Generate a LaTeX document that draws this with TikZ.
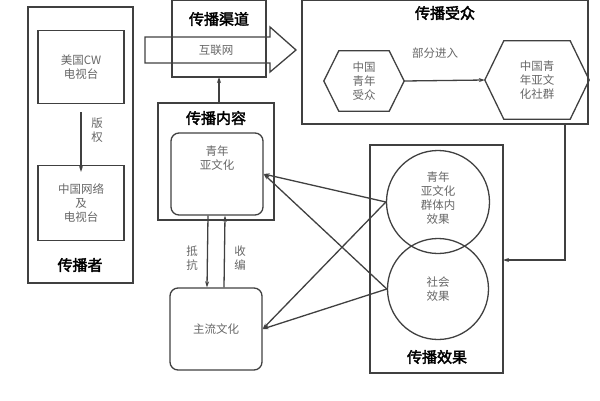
\documentclass[tikz,border=0pt]{standalone}
\usepackage{fontspec}
\setmainfont{Noto Sans CJK SC}[AutoFakeBold=2.5]
\usetikzlibrary{arrows.meta,positioning}
\begin{document}
\begin{tikzpicture}[x=1pt,y=-1pt,draw=black!75,
  box/.style={draw,line width=1.3pt},
  rbox/.style={draw,line width=1.3pt,rounded corners=8pt,align=center,font=\fontsize{11.5}{14}\selectfont,text=black!60},
  txt/.style={align=center,font=\fontsize{11.5}{14}\selectfont,text=black!60},
  ttl/.style={font=\fontsize{15}{17}\selectfont\bfseries},
  arr/.style={-{Stealth[length=6pt,width=4pt]},line width=1.3pt}]
\useasboundingbox (0,0) rectangle (600,400);

% sender
\draw[box] (28,7) rectangle (133,283);
\node[ttl] (sendT) at (80,265) {传播者};
\node[rbox,rounded corners=0pt,minimum width=86pt,minimum height=73pt] (cw) at (81,67) {美国CW\\电视台};
\node[rbox,rounded corners=0pt,minimum width=86pt,minimum height=75pt] (cn) at (81,203) {中国网络\\及\\电视台};
\draw[arr] (cw.south) ++(0,8) coordinate (c1) -- ([yshift=-7pt]cn.north);
\node[txt] (copy) at (97,130) {版\\权};

% channel
\draw[box] (172,0) rectangle (266,77);
\node[ttl] (chanT) at (219,19) {传播渠道};
\draw[line width=1.3pt] (145,37) -- (270,37) -- (270,27) -- (296,50) -- (270,72) -- (270,63) -- (145,63) -- cycle;
\node[txt] (net) at (216,50) {互联网};

% content
\draw[box] (158,103) rectangle (274,220);
\node[ttl] (contT) at (216,118) {传播内容};
\coordinate (contTop) at (219,103);
\coordinate (chanBot) at (219,77);
\draw[arr] (contTop) -- (chanBot);
\node[rbox,minimum width=92pt,minimum height=82pt] (youth) at (217,174) {青年\\亚文化\\[18pt]};
\node[rbox,minimum width=92pt,minimum height=82pt] (main) at (216,329) {主流文化};
\draw[arr] ([xshift=-9pt]youth.south) -- ([xshift=-9pt]main.north);
\draw[arr] ([xshift=8pt]main.north) -- ([xshift=8pt]youth.south);
\node[txt] (resist) at (192,258) {抵\\抗};
\node[txt] (absorb) at (240,258) {收\\编};

% audience
\draw[box] (302,0) rectangle (588,124);
\node[ttl] (audT) at (445,13) {传播受众};
\node[txt,minimum width=80pt,minimum height=60pt] (aud) at (364,81) {中国\\青年\\受众};
\draw[line width=1.3pt] (aud.west) -- ([xshift=15pt]aud.north west) -- ([xshift=-15pt]aud.north east)
  -- (aud.east) -- ([xshift=-15pt]aud.south east) -- ([xshift=15pt]aud.south west) -- cycle;
\node[txt,minimum width=104pt,minimum height=78pt] (comm) at (537,80) {中国青\\年亚文\\化社群};
\draw[line width=1.3pt] (comm.west) -- ([xshift=19pt]comm.north west) -- ([xshift=-19pt]comm.north east)
  -- (comm.east) -- ([xshift=-19pt]comm.south east) -- ([xshift=19pt]comm.south west) -- cycle;
\draw[arr] (aud.east) -- (comm.west);
\node[txt] (part) at (435,53) {部分进入};

% effect
\draw[box] (370,145) rectangle (503,373);
\node[ttl] (effT) at (437,357) {传播效果};
\node[draw,line width=1.3pt,circle,minimum size=103pt] (eff1) at (438,202) {};
\node[txt] (eff1t) at (438,198) {青年\\亚文化\\群体内\\效果};
\node[draw,line width=1.3pt,circle,minimum size=101pt,txt] (eff2) at (438,289) {社会\\效果};
\coordinate (audDown) at (565,124);
\coordinate (effIn) at (503,260);
\draw[arr] (audDown) |- (effIn);

\draw[arr] (eff1.west) -- (youth.east);
\draw[arr] (eff2.west) -- (youth.east);
\draw[arr] (eff1.west) -- (main.east);
\draw[arr] (eff2.west) -- (main.east);
\end{tikzpicture}
\end{document}
